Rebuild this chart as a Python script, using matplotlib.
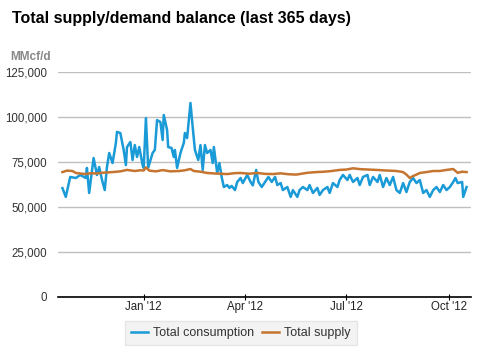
import numpy as np
import matplotlib
matplotlib.use('Agg')
import matplotlib.pyplot as plt
import matplotlib.dates as mdates

plt.rcParams['font.family'] = ['Liberation Sans', 'DejaVu Sans']

# 数据 (千 MMcf/d), 以 2011-10-20 为起点的天数
start = np.datetime64('2011-10-20')

cons_days = [0, 3, 7, 12, 16, 21, 22, 24, 28, 31, 33, 36, 38, 40, 42, 45, 48, 49, 52, 55,
             57, 58, 61, 63, 65, 67, 69, 72, 73, 75, 77, 81, 83, 85, 88, 90, 91, 94, 95, 98,
             100, 101, 103, 106, 109, 110, 112, 115, 117, 119, 122, 124, 126, 128, 130, 133,
             135, 136, 139, 141, 143, 145, 148, 150, 152, 155, 157, 160, 162, 166, 169, 171,
             174, 176, 179, 182, 185, 188, 191, 193, 196, 198, 202, 205, 207, 211, 213, 216,
             220, 222, 225, 229, 231, 234, 238, 240, 243, 247, 249, 252, 256, 258, 261, 265,
             267, 270, 274, 276, 279, 283, 285, 288, 291, 294, 297, 300, 303, 306, 309, 312,
             315, 318, 321, 324, 327, 330, 333, 336, 339, 342, 345, 348, 351, 353, 355, 359,
             360, 363]
cons_vals = [60.5, 55.6, 66.7, 66.1, 67.8, 66.1, 71.7, 57.8, 77.2, 67.8, 72.2, 63.9, 59.4, 72.2,
             80.0, 74.4, 85.6, 91.7, 91.1, 81.7, 73.3, 83.3, 86.1, 76.1, 84.4, 77.8, 83.3, 73.3,
             71.7, 99.4, 71.7, 80.0, 81.7, 98.3, 97.2, 87.2, 101.1, 92.8, 83.3, 82.8, 77.8, 81.7,
             71.7, 80.0, 85.6, 91.1, 88.3, 107.8, 94.4, 81.7, 76.1, 84.4, 70.6, 84.4, 80.0, 81.7,
             74.4, 83.3, 68.9, 74.4, 66.7, 61.1, 62.2, 60.6, 61.7, 59.4, 63.9, 66.1, 63.3, 67.8,
             63.9, 62.0, 70.6, 63.9, 61.1, 63.9, 66.7, 63.9, 66.7, 62.2, 63.3, 59.4, 61.1, 55.6,
             59.4, 55.6, 59.4, 61.1, 59.4, 62.2, 57.8, 60.6, 56.7, 59.4, 61.1, 57.8, 63.3, 61.1,
             65.0, 67.8, 65.0, 67.8, 63.9, 66.1, 62.2, 66.7, 67.8, 62.2, 66.7, 63.9, 67.8, 61.1,
             66.1, 62.2, 66.7, 59.4, 57.8, 63.3, 58.3, 63.9, 66.1, 63.3, 65.0, 57.8, 59.4, 55.6,
             59.4, 61.1, 58.3, 62.2, 59.4, 61.1, 63.9, 66.1, 63.3, 63.9, 55.6, 61.1]

sup_days = [0, 4, 9, 12, 16, 21, 26, 30, 36, 45, 52, 58, 65, 70, 73, 75, 78, 84, 90, 97,
            105, 110, 115, 118, 124, 130, 137, 148, 155, 160, 168, 175, 182, 189, 196, 203,
            210, 216, 220, 228, 235, 242, 249, 255, 261, 268, 275, 282, 290, 300, 306, 309,
            312, 315, 318, 321, 327, 333, 339, 345, 351, 355, 359, 363]
sup_vals = [69.4, 70.2, 70.0, 68.9, 68.6, 68.3, 68.8, 68.6, 69.0, 69.4, 69.8, 70.6, 70.0, 70.4,
            70.3, 72.0, 70.2, 69.8, 70.5, 69.8, 70.0, 70.4, 71.1, 70.0, 69.6, 68.9, 68.6, 68.3,
            68.8, 68.9, 68.5, 68.9, 68.4, 68.3, 68.7, 68.2, 68.0, 68.6, 69.0, 69.4, 69.6, 70.0,
            70.6, 70.8, 71.5, 71.0, 70.8, 70.6, 70.3, 70.0, 69.4, 68.0, 66.1, 67.2, 68.0, 68.9,
            69.4, 70.0, 70.0, 70.6, 71.1, 69.0, 69.6, 69.4]

cons_dates = start + np.array(cons_days).astype('timedelta64[D]')
sup_dates = start + np.array(sup_days).astype('timedelta64[D]')

fig = plt.figure(figsize=(4.78, 3.58), dpi=100)
ax = fig.add_axes([0.1213, 0.1704, 0.8641, 0.6285])

ax.plot(cons_dates, np.array(cons_vals) * 1000, color='#1a9ad6', lw=1.8, label='Total consumption')
ax.plot(sup_dates, np.array(sup_vals) * 1000, color='#c57530', lw=1.8, label='Total supply')

ax.set_ylim(0, 125000)
ax.set_yticks(np.arange(0, 125001, 25000))
ax.set_yticklabels([f'{v:,}' for v in range(0, 125001, 25000)])
ax.set_xlim(start - np.timedelta64(4, 'D'), start + np.timedelta64(367, 'D'))
ticks = np.array(['2012-01-01', '2012-04-01', '2012-07-01', '2012-10-01'], dtype='datetime64[D]')
ax.set_xticks(ticks)
ax.xaxis.set_major_formatter(mdates.DateFormatter("%b '%y"))

ax.grid(axis='y', color='#c0c0c0', lw=1)
ax.set_axisbelow(True)
for s in ['left', 'right', 'top']:
    ax.spines[s].set_visible(False)
ax.spines['bottom'].set_color('black')
ax.spines['bottom'].set_linewidth(1.2)
ax.tick_params(axis='y', length=0, labelsize=8.3, labelcolor='#333333', pad=8)
ax.tick_params(axis='x', length=4, direction='inout', labelsize=8.3, labelcolor='#222222', pad=1)

fig.text(12 / 478, 1 - 18 / 358, 'Total supply/demand balance (last 365 days)',
         fontsize=11.5, fontweight='bold', va='center', ha='left')
fig.text(10 / 478, 1 - 57 / 358, 'MMcf/d', fontsize=8.5, fontweight='bold',
         color='#888888', va='center', ha='left')

leg = fig.legend(loc='center', bbox_to_anchor=(0.504, 0.070), ncol=2, fontsize=9,
                 frameon=True, fancybox=False, handlelength=1.4, handletextpad=0.4,
                 columnspacing=0.6, borderpad=0.45)
leg.get_frame().set_facecolor('#f0f0f0')
leg.get_frame().set_edgecolor('#e0e0e0')
for t in leg.get_texts():
    t.set_color('#333333')

fig.savefig('out.png', dpi=100)
